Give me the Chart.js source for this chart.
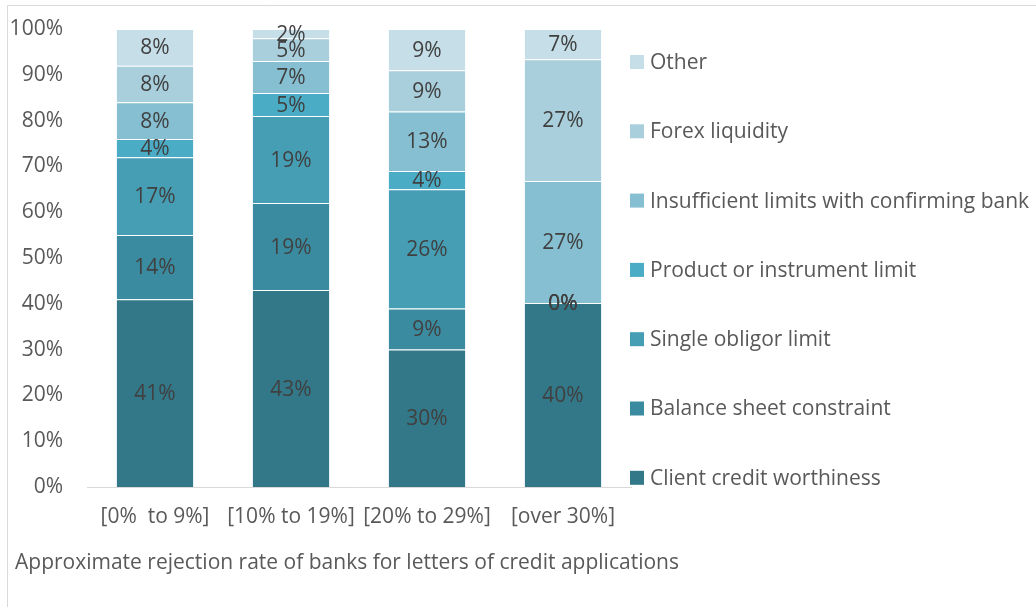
<!DOCTYPE html>
<html>
<head>
<meta charset="utf-8">
<script src="https://cdn.jsdelivr.net/npm/chart.js@4/dist/chart.umd.min.js"></script>
<style>
  html, body { margin: 0; padding: 0; background: #fff; }
  #wrap { width: 1036px; height: 607px; position: relative; }
</style>
</head>
<body>
<div id="wrap"><canvas id="chart" width="1036" height="607"></canvas></div>
<script>
// categories (rejection rate buckets)
var categories = ['[0%  to 9%]', '[10% to 19%]', '[20% to 29%]', '[over 30%]'];

// series, bottom to top
var seriesNames = [
  'Client credit worthiness',
  'Balance sheet constraint',
  'Single obligor limit',
  'Product or instrument limit',
  'Insufficient limits with confirming bank',
  'Forex liquidity',
  'Other'
];
var clientCredit  = [41, 43, 30, 40.2];
var balanceSheet  = [14, 19, 9, 0];
var singleObligor = [17, 19, 26, 0];
var productLimit  = [4, 5, 4, 0];
var insufficient  = [8, 7, 13, 26.6];
var forexLiq      = [8, 5, 9, 26.6];
var other         = [8, 2, 9, 6.6];

var yTicks = [0, 10, 20, 30, 40, 50, 60, 70, 80, 90, 100];
var caption = 'Approximate rejection rate of banks for letters of credit applications';

var colors = ['#337889', '#3b8ba0', '#469eb5', '#4bacc6', '#86bfd1', '#a9cfdc', '#c5dee7'];
var values = [clientCredit, balanceSheet, singleObligor, productLimit, insufficient, forexLiq, other];

var FONT = '"Open Sans", "DejaVu Sans", sans-serif';
var FS = 21;
var TXT = '#595959';

var datasets = [];
for (var i = 0; i < seriesNames.length; i++) {
  datasets.push({
    label: seriesNames[i],
    data: values[i],
    backgroundColor: colors[i],
    borderColor: 'rgba(255,255,255,0.3)',
    borderWidth: 1,
    barPercentage: 0.575,
    categoryPercentage: 1.0
  });
}

// values written in the middle of each segment
var segLabels = {
  id: 'segLabels',
  afterDatasetsDraw: function(chart) {
    var ctx = chart.ctx;
    ctx.save();
    ctx.font = FS + 'px ' + FONT;
    ctx.fillStyle = '#404040';
    ctx.textAlign = 'center';
    ctx.textBaseline = 'middle';
    chart.data.datasets.forEach(function(ds, di) {
      var meta = chart.getDatasetMeta(di);
      meta.data.forEach(function(bar, j) {
        var v = ds.data[j];
        ctx.fillText(Math.round(v) + '%', bar.x, (bar.y + bar.base) / 2 + 1);
      });
    });
    ctx.restore();
  }
};

// legend on the right (top = last series), frame and caption
var extras = {
  id: 'extras',
  afterDraw: function(chart) {
    var ctx = chart.ctx;
    ctx.save();
    // frame
    ctx.strokeStyle = '#d9d9d9';
    ctx.lineWidth = 1;
    ctx.beginPath();
    ctx.moveTo(7.5, 607);
    ctx.lineTo(7.5, 5.5);
    ctx.lineTo(1036, 5.5);
    ctx.stroke();

    // legend
    ctx.font = FS + 'px ' + FONT;
    ctx.textAlign = 'left';
    ctx.textBaseline = 'middle';
    var ds = chart.data.datasets;
    var n = ds.length;
    for (var k = 0; k < n; k++) {
      var d = ds[n - 1 - k];
      var cy = 62 + k * 69.3;
      ctx.fillStyle = d.backgroundColor;
      ctx.fillRect(630, cy - 7, 14, 14);
      ctx.fillStyle = TXT;
      ctx.fillText(d.label, 650, cy + 1);
    }

    // caption
    ctx.fillText(caption, 15, 563);
    ctx.restore();
  }
};

new Chart(document.getElementById('chart'), {
  type: 'bar',
  data: { labels: categories, datasets: datasets },
  plugins: [segLabels, extras],
  options: {
    responsive: false,
    animation: false,
    layout: { padding: { left: 11, top: 29, right: 405, bottom: 0 } },
    plugins: { legend: { display: false }, tooltip: { enabled: false } },
    scales: {
      x: {
        stacked: true,
        grid: { display: false, drawTicks: false },
        border: { display: true, color: '#d9d9d9', width: 1 },
        ticks: { color: TXT, font: { family: FONT, size: FS }, padding: 17, maxRotation: 0, autoSkip: false },
        afterFit: function(s) { s.height = 120; s.paddingLeft = 0; s.paddingRight = 0; }
      },
      y: {
        stacked: true,
        min: 0,
        max: 100,
        afterBuildTicks: function(s) { s.ticks = yTicks.map(function(v) { return { value: v }; }); },
        grid: { display: false, drawTicks: false },
        border: { display: false },
        ticks: {
          color: TXT,
          font: { family: FONT, size: FS },
          padding: 24,
          callback: function(v) { return v + '%'; }
        },
        afterFit: function(s) { s.width = 76; s.paddingTop = 0; s.paddingBottom = 0; }
      }
    }
  }
});
</script>
</body>
</html>
